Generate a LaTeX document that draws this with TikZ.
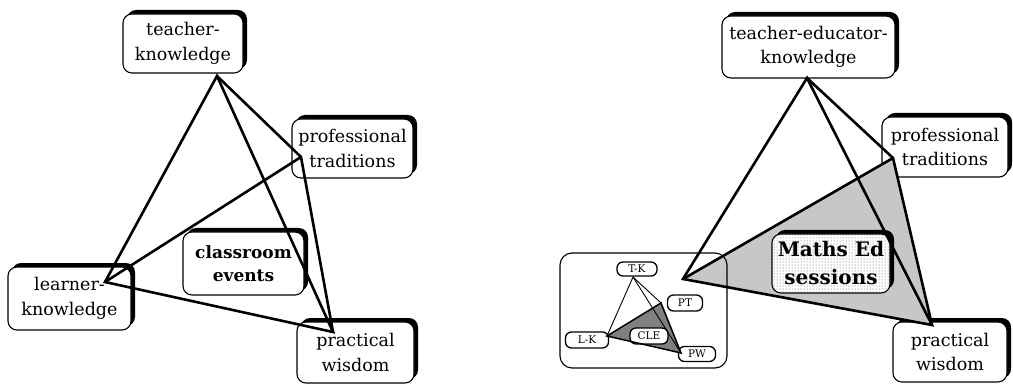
\documentclass[tikz,border=0pt]{standalone}
\usepackage{fontspec}
\setmainfont{DejaVu Serif}
\usetikzlibrary{shadows,patterns}
\begin{document}
\begin{tikzpicture}[x=1pt,y=-1pt,
  box/.style={draw, line width=1.1pt, rounded corners=9pt, fill=white, align=center,
    inner sep=0pt, drop shadow={shadow xshift=4pt, shadow yshift=4pt, fill=black, opacity=1},
    font=\fontsize{17.5}{24.5}\selectfont},
  boldbox/.style={box, font=\fontsize{17}{23}\selectfont\bfseries},
  bigbold/.style={box, font=\fontsize{20}{28}\selectfont\bfseries,
    postaction={pattern=dots, pattern color=black!65}},
  sbox/.style={draw, line width=1.3pt, rounded corners=6pt, fill=white, inner sep=0pt,
    font=\fontsize{10.5}{11}\selectfont},
  link/.style={line width=2.6pt, line join=miter},
  thinlink/.style={line width=0.9pt},
  midlink/.style={line width=1.5pt, line join=miter},
  inset/.style={draw, line width=1.1pt, rounded corners=12pt}
]
\path[use as bounding box] (0,0) rectangle (1013,385);

% ---------------- left diagram ----------------
\coordinate (T) at (217,76);
\coordinate (L) at (105,282);
\coordinate (Pr) at (301,157);
\coordinate (Pw) at (333,332);

\node[box, minimum width=120pt, minimum height=59pt] (tk) at (183,43.5) {teacher-\\knowledge};
\node[box, minimum width=121pt, minimum height=59pt] (pt) at (352.5,148.5) {professional\\traditions};
\node[box, minimum width=123pt, minimum height=63pt] (lk) at (69.5,298.5) {learner-\\knowledge};
\node[box, minimum width=117pt, minimum height=61pt] (pw) at (355.5,352.5) {practical\\wisdom};
\node[boldbox, minimum width=121pt, minimum height=63pt] (ce) at (243.5,263.5) {classroom\\events};

\draw[link] (L) -- (T) -- (Pw) -- cycle;
\draw[link] (T) -- (Pr) -- (Pw);
\draw[link] (L) -- (Pr);

% ---------------- right diagram ----------------
\coordinate (T2) at (807,78);
\coordinate (L2) at (683,279);
\coordinate (Pr2) at (893,158);
\coordinate (Pw2) at (932,325);

\node[box, minimum width=173pt, minimum height=62pt] (tek) at (808.5,47) {teacher-educator-\\knowledge};
\node[box, minimum width=126pt, minimum height=60pt] (pt2) at (945,147) {professional\\traditions};
\node[box, minimum width=114pt, minimum height=60pt] (pw2) at (950,352) {practical\\wisdom};

\fill[black!22] (L2) -- (Pr2) -- (Pw2) -- cycle;

\node[bigbold, minimum width=118pt, minimum height=59pt] (me) at (831,263.5) {Maths Ed\\sessions};

\draw[link] (L2) -- (T2) -- (Pw2) -- cycle;
\draw[link] (T2) -- (Pr2) -- (Pw2);
\draw[link] (L2) -- (Pr2);

% ---------------- inset ----------------
\node[inset, minimum width=167pt, minimum height=115pt] (in) at (643.5,310.5) {};

\coordinate (tkv) at (633,277);
\coordinate (lkv) at (607,336);
\coordinate (ptv) at (661,303);
\coordinate (pwv) at (681,353);

\node[sbox, minimum width=40pt, minimum height=14pt] (stk) at (637,269) {T-K};
\node[sbox, minimum width=35pt, minimum height=16pt] (spt) at (685,303) {PT};
\node[sbox, minimum width=43pt, minimum height=16pt] (slk) at (587,340) {L-K};
\node[sbox, minimum width=37pt, minimum height=15pt] (spw) at (697,354) {PW};

\fill[black!50] (lkv) -- (ptv) -- (pwv) -- cycle;
\node[sbox, minimum width=38pt, minimum height=16pt] (sce) at (649,336) {CLE};

\draw[thinlink] (tkv) -- (lkv);
\draw[thinlink] (tkv) -- (ptv);
\draw[thinlink] (tkv) -- (pwv);
\draw[midlink] (lkv) -- (ptv) -- (pwv) -- cycle;
\end{tikzpicture}
\end{document}
